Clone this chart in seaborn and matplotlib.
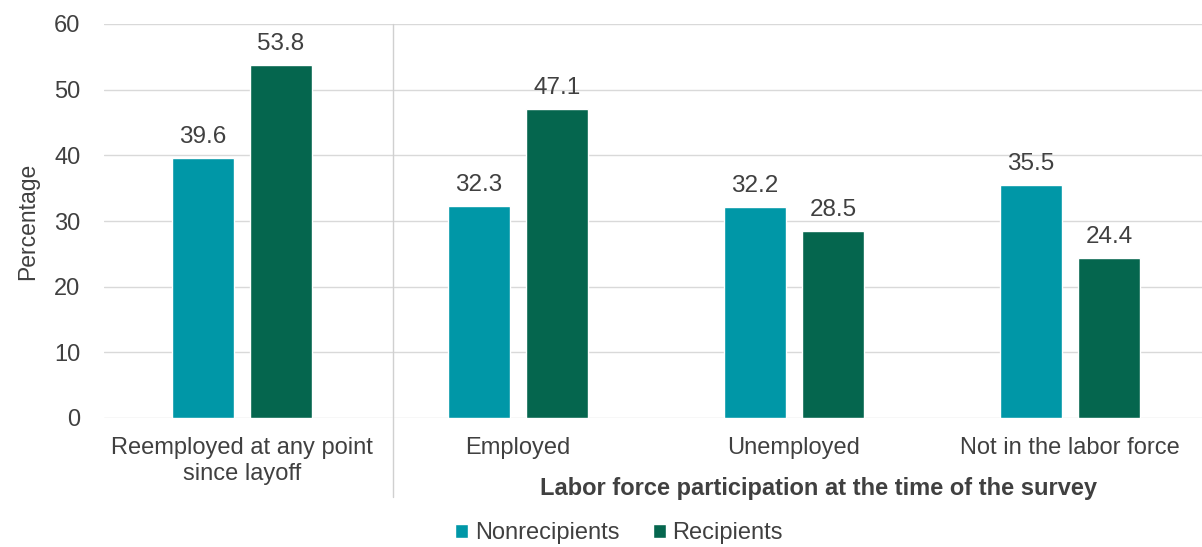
import pandas as pd
import matplotlib.pyplot as plt
import seaborn as sns
from matplotlib.patches import Patch

# Values
categories = ['Reemployed at any point\nsince layoff', 'Employed', 'Unemployed', 'Not in the labor force']
nonrecipients = [39.6, 32.3, 32.2, 35.5]
recipients = [53.8, 47.1, 28.5, 24.4]
groups = ['Nonrecipients', 'Recipients']
colors = ['#0097A7', '#05664E']

df = pd.DataFrame({
    'category': categories * 2,
    'group': [groups[0]] * 4 + [groups[1]] * 4,
    'value': nonrecipients + recipients,
})

sns.set_style('white')
plt.rcParams['font.family'] = ['Liberation Sans', 'DejaVu Sans']
text_color = '#404040'

W, H = 1202, 547
fig = plt.figure(figsize=(W / 100, H / 100), dpi=100)
ax = fig.add_axes([104 / W, 1 - 418 / H, 1104 / W, 394 / H])

sns.barplot(data=df, x='category', y='value', hue='group', order=categories,
            hue_order=groups, palette=colors, width=0.565, gap=0.2,
            saturation=1, legend=False, ax=ax)

for container in ax.containers:
    ax.bar_label(container, fmt='%.1f', padding=7, fontsize=17.5, color=text_color)

ax.set_ylim(0, 60)
ax.set_xlim(-0.5, 3.5)
ax.set_yticks(range(0, 61, 10))
ax.yaxis.grid(True, color='#d9d9d9', linewidth=1)
ax.set_axisbelow(True)
sns.despine(ax=ax, left=True, bottom=True, top=True, right=True)
ax.tick_params(axis='both', length=0, labelsize=17, colors=text_color)
ax.tick_params(axis='y', pad=17)
ax.tick_params(axis='x', pad=14)
ax.set_xlabel('')
ax.set_ylabel('Percentage', fontsize=16.5, color=text_color, labelpad=11)

# separator between the two groups of categories
ax.axvline(0.547, ymin=-0.2, ymax=1.0, color='#d0d0d0', linewidth=1, clip_on=False)

ax.text(2.09, -0.18, 'Labor force participation at the time of the survey',
        transform=ax.get_xaxis_transform(), ha='center', va='center',
        fontsize=17, fontweight='bold', color=text_color)

handles = [Patch(facecolor=c, label=g) for g, c in zip(groups, colors)]
fig.legend(handles=handles, loc='center', bbox_to_anchor=(619 / W, 1 - 533 / H),
           ncol=2, frameon=False, fontsize=17, handlelength=0.55, handleheight=0.55,
           handletextpad=0.3, columnspacing=1.4, labelcolor=text_color)

fig.savefig('out.png', dpi=100)
